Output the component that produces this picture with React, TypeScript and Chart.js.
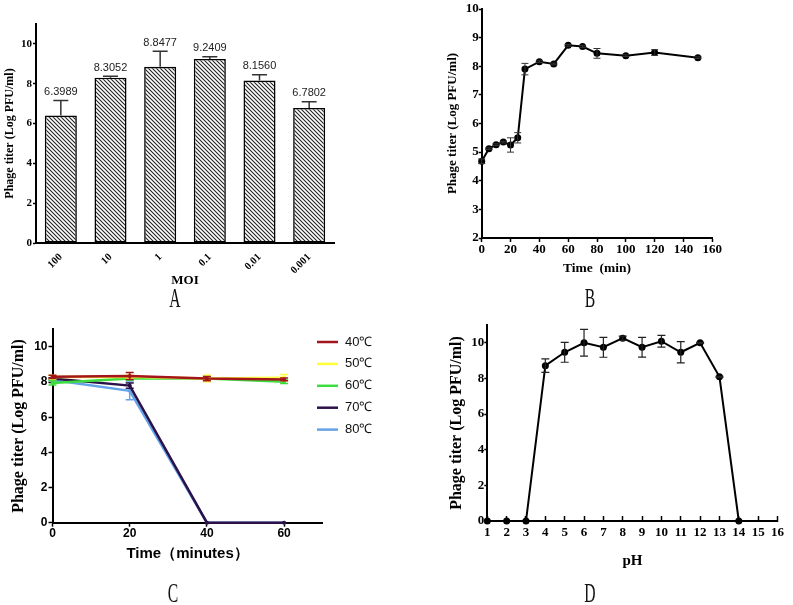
import React, { useEffect, useRef } from "react";
import { Chart, registerables } from "chart.js";

Chart.register(...registerables);

const SERIF = "'Liberation Serif', 'Times New Roman', serif";
const SANS = "'Liberation Sans', Arial, Helvetica, sans-serif";

// ---- Panel A: MOI ----
const moiLabels = ["100", "10", "1", "0.1", "0.01", "0.001"];
const moiTiter = [6.3989, 8.3052, 8.8477, 9.2409, 8.156, 6.7802];
const moiErr = [0.76, 0.07, 0.78, 0.11, 0.3, 0.32];

// ---- Panel B: one-step growth ----
const timeMin = [0, 5, 10, 15, 20, 25, 30, 40, 50, 60, 70, 80, 100, 120, 150];
const growthTiter = [4.68, 5.12, 5.26, 5.35, 5.25, 5.5, 7.9, 8.16, 8.08, 8.73, 8.69, 8.45, 8.37, 8.48, 8.3];
const growthErr = [0.08, 0.03, 0.03, 0.03, 0.25, 0.18, 0.2, 0.03, 0.03, 0.03, 0.03, 0.17, 0.03, 0.1, 0.03];
const growthTicks = [0, 20, 40, 60, 80, 100, 120, 140, 160];

// ---- Panel C: thermal stability ----
const heatTime = [0, 20, 40, 60];
const heatLabels = ["40℃", "50℃", "60℃", "70℃", "80℃"];
const heat40 = [8.3, 8.35, 8.2, 8.15];
const heat50 = [8.28, 8.3, 8.2, 8.25];
const heat60 = [7.95, 8.2, 8.2, 8.02];
const heat70 = [8.2, 7.8, 0, 0];
const heat80 = [8.12, 7.5, 0, 0];
const heat40Err = [0.08, 0.2, 0.12, 0.08];
const heat50Err = [0.1, 0.1, 0.18, 0.18];
const heat60Err = [0.12, 0.1, 0.08, 0.1];
const heat70Err = [0.05, 0.15, 0, 0];
const heat80Err = [0.05, 0.5, 0, 0];
const heatColors = ["#a3141c", "#ffff3a", "#3ddc3d", "#2b1148", "#64a2ea"];

// ---- Panel D: pH stability ----
const phValues = [1, 2, 3, 4, 5, 6, 7, 8, 9, 10, 11, 12, 13, 14];
const phTiter = [0, 0, 0, 8.72, 9.47, 10.0, 9.75, 10.26, 9.75, 10.09, 9.47, 10.0, 8.09, 0];
const phErr = [0, 0, 0, 0.38, 0.56, 0.75, 0.56, 0.12, 0.55, 0.33, 0.6, 0.03, 0.03, 0];

const yTitle = "Phage titer (Log PFU/ml)";

const errorBarPlugin = {
  id: "errorBars",
  afterDatasetDraw(chart: any, args: any) {
    const ds = chart.data.datasets[args.index];
    const errs: number[] | undefined = ds.errors;
    if (!errs) return;
    const meta = args.meta;
    const yScale = chart.scales[meta.yAxisID];
    const ctx = chart.ctx;
    ctx.save();
    ctx.strokeStyle = ds.errorColor ?? "#000";
    ctx.lineWidth = ds.errorWidth ?? 1;
    const cap = ds.errorCap ?? 8;
    meta.data.forEach((el: any, i: number) => {
      const e = errs[i];
      if (!e) return;
      const raw = ds.data[i];
      const v = typeof raw === "number" ? raw : raw.y;
      const x = el.x;
      const yTop = yScale.getPixelForValue(v + e);
      const yBot = ds.errorUpOnly ? yScale.getPixelForValue(v) : yScale.getPixelForValue(v - e);
      ctx.beginPath();
      ctx.moveTo(x, yBot);
      ctx.lineTo(x, yTop);
      ctx.moveTo(x - cap / 2, yTop);
      ctx.lineTo(x + cap / 2, yTop);
      if (!ds.errorUpOnly) {
        ctx.moveTo(x - cap / 2, yBot);
        ctx.lineTo(x + cap / 2, yBot);
      }
      ctx.stroke();
    });
    ctx.restore();
  },
};

const valueLabelPlugin = {
  id: "valueLabels",
  afterDatasetDraw(chart: any, args: any) {
    const ds = chart.data.datasets[args.index];
    const labels: string[] | undefined = ds.valueLabels;
    if (!labels) return;
    const meta = args.meta;
    const yScale = chart.scales[meta.yAxisID];
    const ctx = chart.ctx;
    ctx.save();
    ctx.fillStyle = "#222";
    ctx.font = `11px ${SANS}`;
    ctx.textAlign = "center";
    ctx.textBaseline = "bottom";
    meta.data.forEach((el: any, i: number) => {
      const v = ds.data[i] + (ds.errors ? ds.errors[i] : 0);
      ctx.fillText(labels[i], el.x, yScale.getPixelForValue(v) - 3);
    });
    ctx.restore();
  },
};

const lineLegendPlugin = {
  id: "lineLegend",
  afterDraw(chart: any, _args: any, opts: any) {
    if (!opts || !opts.show) return;
    const ctx = chart.ctx;
    ctx.save();
    ctx.font = `13px ${SANS}`;
    ctx.textBaseline = "middle";
    ctx.textAlign = "left";
    chart.data.datasets.forEach((ds: any, i: number) => {
      const y = opts.y0 + i * opts.dy;
      ctx.strokeStyle = ds.borderColor;
      ctx.lineWidth = 2.5;
      ctx.beginPath();
      ctx.moveTo(opts.x0, y);
      ctx.lineTo(opts.x0 + opts.len, y);
      ctx.stroke();
      ctx.fillStyle = "#111";
      ctx.fillText(ds.label, opts.x0 + opts.len + opts.gap, y);
    });
    ctx.restore();
  },
};

function makeHatch(): CanvasPattern | string {
  const c = document.createElement("canvas");
  const s = 4;
  c.width = s;
  c.height = s;
  const g = c.getContext("2d");
  if (!g) return "#ccc";
  g.fillStyle = "#fff";
  g.fillRect(0, 0, s, s);
  g.strokeStyle = "#222";
  g.lineWidth = 1.1;
  g.beginPath();
  g.moveTo(-1, -1);
  g.lineTo(s + 1, s + 1);
  g.moveTo(-1, s - 1);
  g.lineTo(1, s + 1);
  g.moveTo(s - 1, -1);
  g.lineTo(s + 1, 1);
  g.stroke();
  return g.createPattern(c, "repeat") ?? "#ccc";
}

const font = (family: string, size: number, bold = true) => ({ family, size, weight: bold ? ("bold" as const) : ("normal" as const) });
const border = { display: true, color: "#000", width: 2 };
const capTicks = (limit: number) => (s: any) => {
  s.ticks = s.ticks.filter((t: any) => t.value <= limit + 1e-9);
};
const basePlugins = { legend: { display: false }, tooltip: { enabled: false } };

function makeA(canvas: HTMLCanvasElement) {
  return new Chart(canvas, {
    type: "bar",
    data: {
      labels: moiLabels,
      datasets: [
        {
          data: moiTiter,
          backgroundColor: makeHatch() as any,
          borderColor: "#000",
          borderWidth: 1.6,
          borderSkipped: false,
          barPercentage: 0.645,
          categoryPercentage: 1,
          errors: moiErr,
          errorUpOnly: true,
          errorCap: 15,
          errorWidth: 1.5,
          errorColor: "#333",
          valueLabels: moiTiter.map((v) => v.toFixed(4)),
        } as any,
      ],
    },
    options: {
      responsive: false,
      animation: false,
      layout: { padding: { left: 0, top: 24, right: 62, bottom: 0 } },
      plugins: basePlugins as any,
      scales: {
        x: {
          grid: { display: false },
          border,
          ticks: { color: "#000", font: font(SERIF, 10.5), minRotation: 45, maxRotation: 45, padding: 0 },
          title: { display: true, text: "MOI", color: "#000", font: font(SERIF, 13), padding: { top: 0, bottom: 12 } },
          afterFit: (s: any) => {
            s.height = 57;
          },
        },
        y: {
          min: 0,
          max: 11,
          ticks: { stepSize: 2, color: "#000", font: font(SERIF, 11), padding: 1 },
          grid: { drawOnChartArea: false, tickLength: 3, tickColor: "#000", tickWidth: 1.5 },
          border,
          title: { display: true, text: yTitle, color: "#000", font: font(SERIF, 12), padding: { top: 3, bottom: 0 } },
          afterBuildTicks: capTicks(10),
          afterFit: (s: any) => {
            s.width = 36;
          },
        },
      },
    } as any,
    plugins: [errorBarPlugin, valueLabelPlugin],
  });
}

function makeB(canvas: HTMLCanvasElement) {
  return new Chart(canvas, {
    type: "line",
    data: {
      datasets: [
        {
          data: timeMin.map((t, i) => ({ x: t, y: growthTiter[i] })),
          borderColor: "#000",
          borderWidth: 2,
          pointRadius: 3.5,
          pointBackgroundColor: "#000",
          pointBorderWidth: 0,
          tension: 0,
          clip: false,
          errors: growthErr,
          errorCap: 7,
          errorWidth: 1,
          errorColor: "#333",
        } as any,
      ],
    },
    options: {
      responsive: false,
      animation: false,
      layout: { padding: { left: 0, top: 9, right: 80.7, bottom: 0 } },
      plugins: basePlugins as any,
      scales: {
        x: {
          type: "linear",
          min: growthTicks[0],
          max: growthTicks[growthTicks.length - 1],
          ticks: { stepSize: 20, color: "#000", font: font(SERIF, 13), padding: 0 },
          grid: { drawOnChartArea: false, tickLength: 4, tickColor: "#000", tickWidth: 1.5 },
          border,
          title: { display: true, text: "Time  (min)", color: "#000", font: font(SERIF, 13.5), padding: { top: 0, bottom: 23 } },
          afterFit: (s: any) => {
            s.height = 62;
          },
        },
        y: {
          min: 2,
          max: 10,
          ticks: { stepSize: 1, color: "#000", font: font(SERIF, 13), padding: 0 },
          grid: { drawOnChartArea: false, tickLength: 3, tickColor: "#000", tickWidth: 1.5 },
          border,
          title: { display: true, text: yTitle, color: "#000", font: font(SERIF, 13), padding: { top: 45, bottom: 0 } },
          afterFit: (s: any) => {
            s.width = 81.7;
          },
        },
      },
    } as any,
    plugins: [errorBarPlugin],
  });
}

function makeC(canvas: HTMLCanvasElement) {
  const series = [heat40, heat50, heat60, heat70, heat80];
  const errs = [heat40Err, heat50Err, heat60Err, heat70Err, heat80Err];
  return new Chart(canvas, {
    type: "line",
    data: {
      datasets: series.map((s, k) => ({
        label: heatLabels[k],
        data: heatTime.map((t, i) => ({ x: t, y: s[i] })),
        borderColor: heatColors[k],
        backgroundColor: heatColors[k],
        borderWidth: 2.5,
        pointRadius: 2,
        pointBorderWidth: 0,
        tension: 0,
        clip: false,
        errors: errs[k],
        errorCap: 8,
        errorWidth: 1.5,
        errorColor: heatColors[k],
      })) as any,
    },
    options: {
      responsive: false,
      animation: false,
      layout: { padding: { left: 0, top: 29.3, right: 77.3, bottom: 0 } },
      plugins: {
        ...basePlugins,
        lineLegend: { show: true, x0: 317, len: 21, gap: 7, y0: 42, dy: 21.9 },
      } as any,
      scales: {
        x: {
          type: "linear",
          min: 0,
          max: 70,
          ticks: { stepSize: 20, color: "#000", font: font(SANS, 12), padding: 0 },
          grid: { drawOnChartArea: false, tickLength: 4, tickColor: "#000", tickWidth: 1.5 },
          border,
          title: { display: true, text: "Time（minutes）", color: "#000", font: font(SANS, 15), padding: { top: 0, bottom: 42 } },
          afterBuildTicks: capTicks(60),
          afterFit: (s: any) => {
            s.height = 82.3;
          },
        },
        y: {
          min: 0,
          max: 11,
          ticks: { stepSize: 2, color: "#000", font: font(SANS, 12), padding: 1 },
          grid: { drawOnChartArea: false, tickLength: 4, tickColor: "#000", tickWidth: 1.5 },
          border,
          title: { display: true, text: yTitle, color: "#000", font: font(SERIF, 16), padding: { top: 9.4, bottom: 0 } },
          afterBuildTicks: capTicks(10),
          afterFit: (s: any) => {
            s.width = 52.5;
          },
        },
      },
    } as any,
    plugins: [errorBarPlugin, lineLegendPlugin],
  });
}

function makeD(canvas: HTMLCanvasElement) {
  return new Chart(canvas, {
    type: "line",
    data: {
      datasets: [
        {
          data: phValues.map((p, i) => ({ x: p, y: phTiter[i] })),
          borderColor: "#000",
          borderWidth: 2,
          pointRadius: 3.5,
          pointBackgroundColor: "#000",
          pointBorderWidth: 0,
          tension: 0,
          clip: false,
          errors: phErr,
          errorCap: 8,
          errorWidth: 1.2,
          errorColor: "#222",
        } as any,
      ],
    },
    options: {
      responsive: false,
      animation: false,
      layout: { padding: { left: 0, top: 25, right: 10.7, bottom: 0 } },
      plugins: basePlugins as any,
      scales: {
        x: {
          type: "linear",
          min: 1,
          max: 16,
          ticks: { stepSize: 1, color: "#000", font: font(SERIF, 13), padding: 9 },
          grid: { drawOnChartArea: false, tickLength: -5, tickColor: "#000", tickWidth: 1.5 },
          border,
          title: { display: true, text: "pH", color: "#000", font: font(SERIF, 15), padding: { top: 0, bottom: 35 } },
          afterFit: (s: any) => {
            s.height = 84;
          },
        },
        y: {
          min: 0,
          max: 11,
          ticks: { stepSize: 2, color: "#000", font: font(SERIF, 13), padding: 0 },
          grid: { drawOnChartArea: false, tickLength: 3, tickColor: "#000", tickWidth: 1.5 },
          border,
          title: { display: true, text: yTitle, color: "#000", font: font(SERIF, 16), padding: { top: 47.1, bottom: 0 } },
          afterBuildTicks: capTicks(10),
          afterFit: (s: any) => {
            s.width = 87.3;
          },
        },
      },
    } as any,
    plugins: [errorBarPlugin],
  });
}

function Panel({ x, y, w, h, make }: { x: number; y: number; w: number; h: number; make: (c: HTMLCanvasElement) => Chart }) {
  const ref = useRef<HTMLCanvasElement>(null);
  useEffect(() => {
    if (!ref.current) return;
    const chart = make(ref.current);
    return () => chart.destroy();
  }, [make]);
  return (
    <div style={{ position: "absolute", left: x, top: y, width: w, height: h }}>
      <canvas ref={ref} width={w} height={h} style={{ width: w, height: h, display: "block" }} />
    </div>
  );
}

function Letter({ text, cx, cy }: { text: string; cx: number; cy: number }) {
  return (
    <div
      style={{
        position: "absolute",
        left: cx - 30,
        top: cy - 15,
        width: 60,
        height: 30,
        lineHeight: "30px",
        textAlign: "center",
        fontFamily: SERIF,
        fontSize: 27,
        color: "#111",
        transform: "scaleX(0.58)",
      }}
    >
      {text}
    </div>
  );
}

export default function App() {
  return (
    <div style={{ position: "fixed", left: 0, top: 0, width: 793, height: 605, background: "#fff", overflow: "hidden" }}>
      <Panel x={0} y={0} w={396} h={300} make={makeA} />
      <Panel x={400} y={0} w={393} h={300} make={makeB} />
      <Panel x={0} y={300} w={400} h={305} make={makeC} />
      <Panel x={400} y={300} w={393} h={305} make={makeD} />
      <Letter text="A" cx={175} cy={298} />
      <Letter text="B" cx={590} cy={298} />
      <Letter text="C" cx={173} cy={593} />
      <Letter text="D" cx={590} cy={593} />
    </div>
  );
}
